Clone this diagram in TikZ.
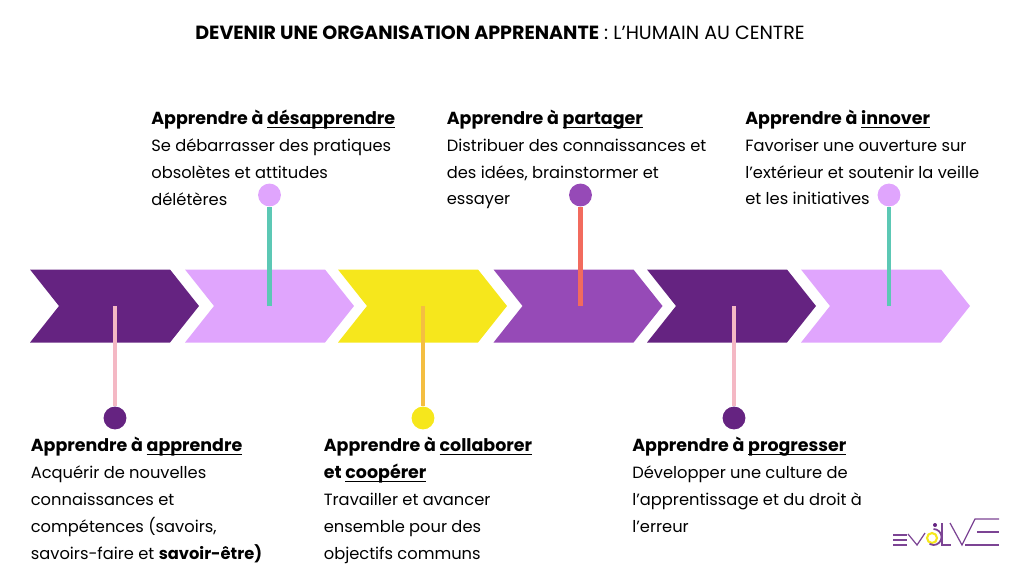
\documentclass[tikz,border=0pt]{standalone}
\usepackage{fontspec}
\setmainfont{Poppins}
\usetikzlibrary{calc,positioning}
\definecolor{darkpurple}{HTML}{652381}
\definecolor{lilac}{HTML}{E0A5FD}
\definecolor{lemon}{HTML}{F6E71C}
\definecolor{midpurple}{HTML}{964AB7}
\definecolor{rosepink}{HTML}{F4B8C4}
\definecolor{tealline}{HTML}{5CC8B5}
\definecolor{amberline}{HTML}{F4BE41}
\definecolor{coralline}{HTML}{F26B5E}
\tikzset{
    stemline/.style={line width=2.4pt},
    stepdot/.style={circle,minimum size=13pt,inner sep=0pt},
    steptext/.style={anchor=north west,inner sep=0pt,align=left,font=\fontsize{9.27}{15.3}\selectfont},
    logoline/.style={color=darkpurple!85,line width=0.7pt}
}
\newcommand{\stepul}[1]{\sbox0{#1}\rlap{\rule[-2pt]{\wd0}{0.6pt}}\usebox0}
\newcommand{\stepbold}[1]{{\fontsize{9.93}{15.3}\selectfont\textbf{#1}}}
\newcommand{\stephead}[2]{\stepbold{#1 \stepul{#2}}}
\begin{document}
\begin{tikzpicture}[x=0.02cm,y=-0.02cm]
    % page
    \useasboundingbox (0,0) rectangle (1024,576);

    % title
    \node[font=\fontsize{10.85}{13}\selectfont] (title) at (500,33) {\textbf{DEVENIR UNE ORGANISATION APPRENANTE} : L’HUMAIN AU CENTRE};

    % chevrons
    \foreach \xpos/\col in {30/darkpurple,185/lilac,338/lemon,493.5/midpurple,647/darkpurple,801/lilac}
        \fill[color=\col] (\xpos,269.5) -- ++(140,0) -- ++(29,36.5) -- ++(-29,36.5) -- ++(-140,0) -- ++(29,-36.5) -- cycle;

    % stems and dots below the line
    \coordinate (stepa) at (115,306);
    \coordinate (stepc) at (423,306);
    \coordinate (stepe) at (734,306);
    \node[stepdot,fill=darkpurple] (dota) at (115,418) {};
    \node[stepdot,fill=lemon] (dotc) at (423,418) {};
    \node[stepdot,fill=darkpurple] (dote) at (734,418) {};
    \draw[stemline,color=rosepink] (stepa) -- (dota);
    \draw[stemline,color=amberline] (stepc) -- (dotc);
    \draw[stemline,color=rosepink] (stepe) -- (dote);

    % stems and dots above the line
    \coordinate (stepb) at (269.5,306);
    \coordinate (stepd) at (580.5,306);
    \coordinate (stepf) at (889,306);
    \node[stepdot,fill=lilac] (dotb) at (269.5,195) {};
    \node[stepdot,fill=midpurple] (dotd) at (580.5,195) {};
    \node[stepdot,fill=lilac] (dotf) at (889,195) {};
    \draw[stemline,color=tealline] (stepb) -- (dotb);
    \draw[stemline,color=coralline] (stepd) -- (dotd);
    \draw[stemline,color=tealline] (stepf) -- (dotf);

    % upper labels
    \node[steptext] (textb) at (151,109.5) {\stephead{Apprendre à}{désapprendre}\\Se débarrasser des pratiques\\obsolètes et attitudes\\délétères};
    \node[steptext] (textd) at (446.5,109.5) {\stephead{Apprendre à}{partager}\\Distribuer des connaissances et\\des idées, brainstormer et\\essayer};
    \node[steptext] (textf) at (745,109.5) {\stephead{Apprendre à}{innover}\\Favoriser une ouverture sur\\l’extérieur et soutenir la veille\\et les initiatives};

    % lower labels
    \node[steptext] (texta) at (30.5,437) {\stephead{Apprendre à}{apprendre}\\Acquérir de nouvelles\\connaissances et\\compétences (savoirs,\\savoirs-faire et \textbf{savoir-être)}};
    \node[steptext] (textc) at (323.5,437) {\stephead{Apprendre à}{collaborer}\\\stepbold{et \stepul{coopérer}}\\Travailler et avancer\\ensemble pour des\\objectifs communs};
    \node[steptext] (texte) at (632,437) {\stephead{Apprendre à}{progresser}\\Développer une culture de\\l’apprentissage et du droit à\\l’erreur};

    % logo
    \draw[logoline] (893,535) -- (907,535) (893,540) -- (907,540) (893,545) -- (907,545);
    \draw[logoline] (908,534) -- (917,545) -- (925,533);
    \draw[color=lemon,line width=1.2pt] (932,538) circle (5);
    \draw[logoline,line width=1pt] (933.5,529) arc (-90:120:8);
    \fill[color=darkpurple] (935,525) circle (2);
    \draw[logoline] (942,523) -- (942,545) -- (951,545);
    \draw[logoline] (950,523) -- (962,545) -- (975,519) -- (999,519);
    \draw[logoline] (977,532) -- (999,532) (965,545) -- (999,545);
\end{tikzpicture}
\end{document}
